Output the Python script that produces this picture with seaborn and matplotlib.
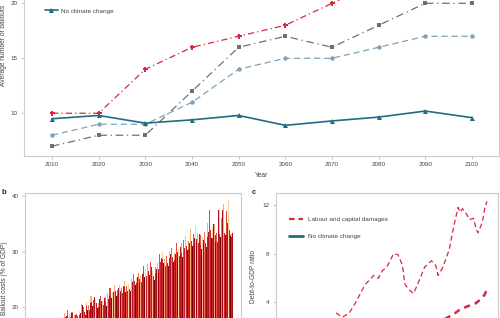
import numpy as np
import matplotlib
matplotlib.use("Agg")
import matplotlib.pyplot as plt
from matplotlib.lines import Line2D
import seaborn as sns

sns.set_theme(style="white")
plt.rcParams['font.family'] = ['Liberation Sans', 'DejaVu Sans']

# ---- panel a: average number of bailouts ----
years_a = [2010, 2020, 2030, 2040, 2050, 2060, 2070, 2080, 2090, 2100]
labour_capital = [10, 10, 14, 16, 17, 18, 20, 22, 23, 24]
capital_only = [7, 8, 8, 12, 16, 17, 16, 18, 20, 20]
labour_only = [8, 9, 9, 11, 14, 15, 15, 16, 17, 17]
no_climate = [9.5, 9.8, 9.1, 9.4, 9.8, 8.9, 9.3, 9.65, 10.2, 9.6]

# ---- panel b: bailout costs, overlaid runs ----
b_high = [18.3, 18.9, 19.5, 19.0, 19.2, 18.7, 18.8, 19.3, 20.6, 20.1,
          21.0, 20.4, 22.1, 21.3, 21.5, 20.8, 22.0, 21.2, 21.8, 22.6,
          23.4, 22.8, 24.0, 23.1, 24.0, 23.5, 24.8, 23.9, 24.2, 25.1,
          26.0, 25.2, 26.1, 25.7, 27.5, 26.8, 27.8, 28.1, 26.5, 27.2,
          28.0, 29.5, 30.0, 28.6, 29.2, 30.1, 30.6, 29.8, 31.6, 30.4,
          31.5, 32.1, 32.8, 31.9, 34.0, 33.1, 34.6, 33.4, 33.0, 32.6,
          33.5, 35.2, 37.5, 34.4, 35.0, 33.3, 37.6, 36.0, 38.5, 37.3,
          39.3, 33.1]
b_mid = [17.5, 18.2, 18.6, 18.3, 18.9, 18.0, 18.4, 18.6, 19.8, 19.2,
         20.2, 19.6, 21.0, 20.5, 20.7, 20.1, 21.2, 20.4, 20.9, 21.5,
         22.4, 21.9, 22.9, 22.3, 23.0, 22.6, 23.6, 23.0, 23.3, 24.1,
         24.8, 24.3, 25.0, 24.6, 26.2, 25.7, 26.6, 26.9, 25.6, 26.1,
         26.9, 28.1, 28.7, 27.4, 28.0, 28.8, 29.1, 28.5, 29.9, 29.2,
         29.8, 30.6, 31.0, 30.4, 31.9, 31.2, 32.3, 31.6, 31.2, 30.9,
         31.5, 32.6, 33.8, 32.5, 33.0, 31.8, 33.2, 32.7, 33.4, 32.9,
         33.8, 32.6]
b_low = [16.8, 18.5, 17.9, 18.9, 17.6, 18.7, 17.9, 19.0, 20.5, 18.6,
         19.6, 20.8, 20.2, 21.9, 19.8, 21.5, 20.6, 21.7, 20.2, 22.0,
         21.6, 22.8, 22.0, 23.5, 22.4, 23.8, 22.7, 24.0, 22.9, 24.6,
         24.0, 25.4, 24.3, 25.9, 25.5, 26.6, 25.8, 27.3, 24.9, 26.9,
         26.2, 28.8, 27.9, 28.4, 27.5, 29.6, 28.2, 29.5, 29.0, 30.8,
         29.1, 31.4, 30.3, 31.6, 31.0, 32.5, 31.5, 33.2, 30.5, 32.0,
         30.9, 33.6, 32.4, 34.9, 31.8, 37.4, 32.6, 37.5, 33.0, 35.2,
         32.8, 33.3]
b_years = np.arange(2029, 2029 + len(b_high))

# ---- panel c: debt-to-GDP ratio ----
c_years_upper = [2032, 2035, 2038, 2041, 2043, 2045, 2047, 2049, 2051, 2053,
                 2055, 2058, 2060, 2062, 2063, 2065, 2067, 2070, 2072, 2075,
                 2077, 2078, 2080, 2083, 2085, 2086, 2087, 2088, 2089, 2091,
                 2092, 2094, 2095, 2096, 2098, 2099, 2100]
c_upper = [3.1, 2.75, 3.1, 4.0, 4.7, 5.4, 5.8, 6.2, 5.95, 6.6,
           6.9, 8.0, 7.9, 7.0, 5.5, 5.0, 4.7, 6.0, 6.9, 7.4,
           7.0, 6.2, 6.8, 8.3, 10.2, 11.0, 11.8, 11.4, 11.7, 11.2,
           10.8, 10.9, 10.1, 9.7, 10.6, 11.7, 12.3]
c_years_median = [2070, 2074, 2078, 2082, 2085, 2088, 2092, 2095, 2097, 2099, 2100]
c_median = [1.6, 2.0, 2.3, 2.7, 3.0, 3.4, 3.7, 3.9, 4.2, 4.6, 5.1]
c_years_base = [2010, 2030, 2050, 2070, 2090, 2100]
c_base = [0.6, 0.8, 0.9, 1.0, 1.1, 1.1]

red = '#d6283f'
grey = '#6f6f6f'
lightblue = '#7ea3b9'
teal = '#1f6d85'
spine_col = '#cccccc'
tick_col = '#444444'


def style_axes(ax):
    for s in ax.spines.values():
        s.set_color(spine_col)
        s.set_linewidth(0.8)
    ax.tick_params(bottom=True, left=True, length=2.5, width=0.6, color='#bbbbbb',
                   labelsize=4.5, labelcolor=tick_col, pad=2)


fig = plt.figure(figsize=(5, 3.18), dpi=100)

# panel a
ax_a = fig.add_axes([0.048, 0.509, 0.95, 0.695])
sns.lineplot(x=years_a, y=labour_capital, color=red, marker='P', markersize=3.6,
             markeredgewidth=0, linewidth=0.9, linestyle=(0, (5, 2.5, 1, 2.5)), ax=ax_a)
sns.lineplot(x=years_a, y=capital_only, color=grey, marker='s', markersize=3.2,
             markeredgewidth=0, linewidth=0.9, linestyle=(0, (6, 3, 1, 3)), ax=ax_a)
sns.lineplot(x=years_a, y=labour_only, color=lightblue, marker='o', markersize=3.2,
             markeredgewidth=0, linewidth=0.9, linestyle=(0, (5, 3)), ax=ax_a)
sns.lineplot(x=years_a, y=no_climate, color=teal, marker='^', markersize=3.6,
             markeredgewidth=0, linewidth=1.2, ax=ax_a)
ax_a.set_xlim(2004, 2105.8)
ax_a.set_ylim(6.1, 26.2)
ax_a.set_xticks(years_a)
ax_a.set_yticks([10, 15, 20])
ax_a.set_xlabel('Year', fontsize=4.8, color=tick_col, labelpad=3)
ax_a.set_ylabel('Average number of bailouts', fontsize=4.8, color=tick_col, labelpad=2.5)
style_axes(ax_a)
h_nc = Line2D([], [], color=teal, marker='^', markersize=3.6, markeredgewidth=0, linewidth=1.2)
ax_a.legend(handles=[h_nc], labels=['No climate change'], loc='center left',
            bbox_to_anchor=(45 / 500, 1 - 11 / 318), bbox_transform=fig.transFigure,
            frameon=False, fontsize=4.6, handlelength=2.0, handletextpad=0.5,
            borderpad=0, borderaxespad=0, labelcolor=tick_col)

# panel b
ax_b = fig.add_axes([0.05, -0.1415, 0.432, 0.5346])
high_cols = ['#fdd0a2', '#f4a582', '#e8553f', '#fcbba1', '#f0755a', '#fdae6b', '#e34a33']
low_cols = ['#99000d', '#b2182b', '#7f0000', '#a50f15']
ax_b.bar(b_years - 0.3, b_high, width=0.45, linewidth=0,
         color=[high_cols[i % len(high_cols)] for i in range(len(b_high))])
ax_b.bar(b_years, b_mid, width=0.45, linewidth=0, color='#c8232c')
ax_b.bar(b_years + 0.3, b_low, width=0.4, linewidth=0,
         color=[low_cols[i % len(low_cols)] for i in range(len(b_low))])
ax_b.set_xlim(2029 - 16.1, 2029 + 74.9)
ax_b.set_ylim(10.44, 40.53)
ax_b.set_yticks([10, 20, 30, 40])
ax_b.set_ylabel('Bailout costs (% of GDP)', fontsize=4.8, color=tick_col, labelpad=2.5)
style_axes(ax_b)
ax_b.set_xticks([])  # x axis of this panel lies below the crop

# panel c
ax_c = fig.add_axes([0.552, -0.129, 0.444, 0.522])
sns.lineplot(x=c_years_base, y=c_base, color=teal, linewidth=2.0, ax=ax_c)
sns.lineplot(x=c_years_upper, y=c_upper, color=red, linewidth=0.9,
             linestyle=(0, (4, 2.5)), ax=ax_c)
sns.lineplot(x=c_years_median, y=c_median, color=red, linewidth=1.8,
             linestyle=(0, (2.5, 2)), ax=ax_c)
ax_c.set_xlim(2005, 2105)
ax_c.set_ylim(-0.7, 12.99)
ax_c.set_yticks([4, 8, 12])
ax_c.set_ylabel('Debt-to-GDP ratio', fontsize=4.8, color=tick_col, labelpad=4)
style_axes(ax_c)
ax_c.set_xticks([])
h_lc = Line2D([], [], color=red, linewidth=1.6, linestyle=(0, (2.5, 1.8)))
h_nc2 = Line2D([], [], color=teal, linewidth=2.0)
ax_c.legend(handles=[h_lc, h_nc2], labels=['Labour and capital damages', 'No climate change'],
            loc='center left', bbox_to_anchor=(289 / 500, 1 - 228 / 318),
            bbox_transform=fig.transFigure, frameon=False, fontsize=4.6,
            handlelength=2.2, handletextpad=0.8, labelspacing=1.8,
            borderpad=0, borderaxespad=0, labelcolor=tick_col)

fig.text(0.004, 1 - 192 / 318, 'b', fontsize=5.5, fontweight='bold', va='center')
fig.text(252 / 500, 1 - 192 / 318, 'c', fontsize=5.5, fontweight='bold', va='center')

fig.savefig('out.png', dpi=100)
